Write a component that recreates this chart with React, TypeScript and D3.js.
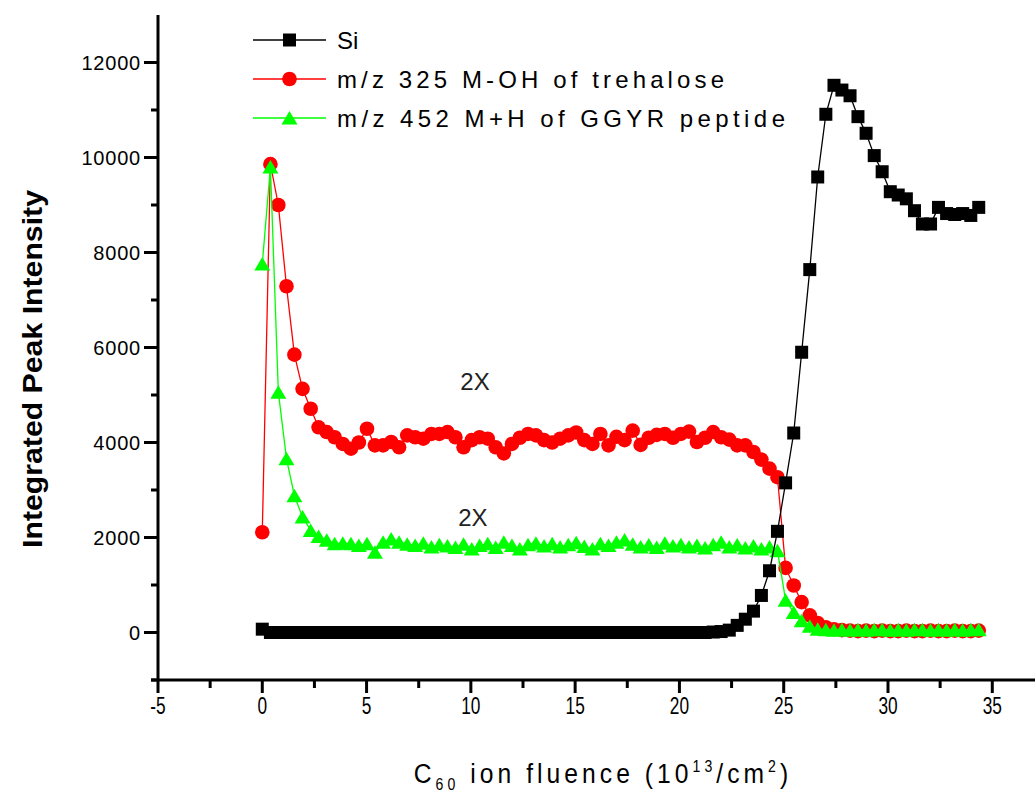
import React from "react";
import * as d3 from "d3";

const fluence = [
  0, 0.39, 0.77, 1.16, 1.54, 1.93, 2.32, 2.7, 3.09, 3.47,
  3.86, 4.25, 4.63, 5.02, 5.4, 5.79, 6.18, 6.56, 6.95, 7.33,
  7.72, 8.11, 8.49, 8.88, 9.26, 9.65, 10.04, 10.42, 10.81, 11.19,
  11.58, 11.97, 12.35, 12.74, 13.12, 13.51, 13.9, 14.28, 14.67, 15.05,
  15.44, 15.83, 16.21, 16.6, 16.98, 17.37, 17.76, 18.14, 18.53, 18.91,
  19.3, 19.69, 20.07, 20.46, 20.84, 21.23, 21.62, 22.0, 22.39, 22.77,
  23.16, 23.55, 23.93, 24.32, 24.7, 25.09, 25.48, 25.86, 26.25, 26.63,
  27.02, 27.41, 27.79, 28.18, 28.56, 28.95, 29.34, 29.72, 30.11, 30.49,
  30.88, 31.27, 31.65, 32.04, 32.42, 32.81, 33.2, 33.58, 33.97, 34.35,
];

const siIntensity = [
  70, 0, 0, 0, 0, 0, 0, 0, 0, 0,
  0, 0, 0, 0, 0, 0, 0, 0, 0, 0,
  0, 0, 0, 0, 0, 0, 0, 0, 0, 0,
  0, 0, 0, 0, 0, 0, 0, 0, 0, 0,
  0, 0, 0, 0, 0, 0, 0, 0, 0, 0,
  0, 0, 0, 0, 0, 0, 10, 20, 50, 150,
  280, 450, 780, 1300, 2130, 3150, 4200, 5900, 7640, 9590,
  10910, 11520, 11420, 11300, 10860, 10510, 10040, 9700, 9280, 9210,
  9130, 8880, 8600, 8600, 8950, 8820, 8800, 8820, 8780, 8950,
];

const trehaloseIntensity = [
  2110, 9860, 9000, 7290, 5850, 5130, 4710, 4320, 4220, 4110,
  3970, 3870, 4000, 4290, 3940, 3940, 4010, 3900, 4150, 4110,
  4080, 4180, 4180, 4220, 4110, 3900, 4050, 4110, 4080, 3900,
  3770, 3970, 4100, 4180, 4150, 4050, 4000, 4080, 4150, 4210,
  4050, 3970, 4180, 3940, 4120, 4050, 4250, 3950, 4100, 4160,
  4180, 4100, 4180, 4230, 4010, 4100, 4220, 4110, 4060, 3940,
  3940, 3800, 3640, 3450, 3270, 1360, 990, 640, 360, 200,
  110, 70, 50, 40, 30, 40, 30, 40, 30, 30,
  40, 30, 30, 40, 30, 30, 40, 30, 30, 40,
];

const peptideIntensity = [
  7760, 9800, 5060, 3660, 2880, 2430, 2150, 2020, 1940, 1870,
  1880, 1870, 1830, 1870, 1690, 1900, 1970, 1900, 1860, 1830,
  1880, 1800, 1850, 1820, 1790, 1860, 1760, 1830, 1870, 1790,
  1900, 1830, 1760, 1850, 1880, 1820, 1870, 1800, 1850, 1890,
  1810, 1760, 1870, 1830, 1900, 1950, 1860, 1800, 1840, 1790,
  1880, 1820, 1850, 1800, 1830, 1780, 1850, 1900, 1800, 1840,
  1780, 1820, 1760, 1800, 1720, 680, 420, 250, 130, 70,
  60, 50, 60, 50, 60, 50, 60, 60, 50, 60,
  50, 60, 60, 50, 60, 50, 60, 50, 60, 60,
];

const seriesNames = ["Si", "m/z 325 M-OH of trehalose", "m/z 452 M+H of GGYR peptide"];
const xMajorTicks = [-5, 0, 5, 10, 15, 20, 25, 30, 35];
const xMinorTicks = [-2.5, 2.5, 7.5, 12.5, 17.5, 22.5, 27.5, 32.5];
const yMajorTicks = [0, 2000, 4000, 6000, 8000, 10000, 12000];
const yMinorTicks = [-1000, 1000, 3000, 5000, 7000, 9000, 11000];
const annotations = [
  { label: "2X", fx: 10.2, val: 5280 },
  { label: "2X", fx: 10.1, val: 2420 },
];

const W = 1035;
const H = 793;
const FONT = "'Liberation Sans', Arial, sans-serif";

function marker(shape: string, cx: number, cy: number, color: string, key: any) {
  if (shape === "square")
    return <rect key={key} x={cx - 6.5} y={cy - 6.5} width={13} height={13} fill={color} />;
  if (shape === "circle") return <circle key={key} cx={cx} cy={cy} r={7.3} fill={color} />;
  return (
    <path
      key={key}
      d={`M${cx},${cy - 7}L${cx + 8},${cy + 6.5}L${cx - 8},${cy + 6.5}Z`}
      fill={color}
    />
  );
}

export default function App() {
  const x = d3.scaleLinear().domain([-5, 37]).range([158, 1034]);
  const y = d3.scaleLinear().domain([-1000, 13000]).range([680, 15]);

  const series = [
    { name: seriesNames[1], values: trehaloseIntensity, color: "#ff0000", shape: "circle" },
    { name: seriesNames[2], values: peptideIntensity, color: "#00ff00", shape: "triangle" },
    { name: seriesNames[0], values: siIntensity, color: "#000000", shape: "square" },
  ];
  const legendOrder = [
    { name: seriesNames[0], color: "#000000", shape: "square", len: 0 },
    { name: seriesNames[1], color: "#ff0000", shape: "circle", len: 387 },
    { name: seriesNames[2], color: "#00ff00", shape: "triangle", len: 448 },
  ];

  const line = d3
    .line<number>()
    .x((_, i) => x(fluence[i]))
    .y((d) => y(d));

  const axisY = y(-1000);
  const axisX = x(-5);

  return (
    <svg
      width={W}
      height={H}
      style={{ position: "absolute", left: 0, top: 0, background: "#fff" }}
      fontFamily={FONT}
    >
      <rect x={0} y={0} width={W} height={H} fill="#fff" />
      {series.map((s) => (
        <g key={s.name}>
          <path d={line(s.values) || ""} fill="none" stroke={s.color} strokeWidth={1.3} />
          {s.values.map((v, i) => marker(s.shape, x(fluence[i]), y(v), s.color, i))}
        </g>
      ))}

      <g stroke="#000" strokeWidth={3}>
        <line x1={axisX} x2={axisX} y1={y(13000)} y2={axisY} />
        <line x1={axisX - 7} x2={W} y1={axisY} y2={axisY} />
        {yMajorTicks.map((t) => (
          <line key={"ym" + t} x1={axisX - 14} x2={axisX} y1={y(t)} y2={y(t)} />
        ))}
        {yMinorTicks.map((t) => (
          <line key={"yn" + t} x1={axisX - 7} x2={axisX} y1={y(t)} y2={y(t)} />
        ))}
        {xMajorTicks.map((t) => (
          <line key={"xm" + t} x1={x(t)} x2={x(t)} y1={axisY} y2={axisY + 13} />
        ))}
        {xMinorTicks.map((t) => (
          <line key={"xn" + t} x1={x(t)} x2={x(t)} y1={axisY} y2={axisY + 8} />
        ))}
      </g>

      {yMajorTicks.map((t) => (
        <text
          key={"yl" + t}
          x={axisX - 17}
          y={y(t)}
          dy="0.36em"
          textAnchor="end"
          fontSize={20}
          letterSpacing={0.8}
          fill="#000"
        >
          {t}
        </text>
      ))}
      {xMajorTicks.map((t) => (
        <text
          key={"xl" + t}
          transform={`translate(${x(t)},${axisY + 25}) scale(0.72,1)`}
          dy="0.36em"
          textAnchor="middle"
          fontSize={24}
          fill="#000"
        >
          {t}
        </text>
      ))}

      <text
        transform={`translate(32,369) rotate(-90)`}
        textAnchor="middle"
        dy="0.36em"
        fontSize={27}
        fontWeight="bold"
        textLength={358}
        lengthAdjust="spacingAndGlyphs"
        fill="#000"
      >
        Integrated Peak Intensity
      </text>
      <g transform="translate(603,783) scale(0.88,1)">
        <text x={0} y={0} textAnchor="middle" fontSize={28} letterSpacing={4.6} fill="#000">
          C<tspan fontSize={16} dy={7}>60</tspan>
          <tspan dy={-7}> ion fluence (10</tspan>
          <tspan fontSize={16} dy={-11}>13</tspan>
          <tspan dy={11}>/cm</tspan>
          <tspan fontSize={16} dy={-11}>2</tspan>
          <tspan dy={11}>)</tspan>
        </text>
      </g>

      {annotations.map((a, i) => (
        <text
          key={"an" + i}
          x={x(a.fx)}
          y={y(a.val)}
          dy="0.36em"
          textAnchor="middle"
          fontSize={24}
          fill="#222"
        >
          {a.label}
        </text>
      ))}

      {legendOrder.map((l, i) => {
        const ly = 40 + i * 39;
        return (
          <g key={"lg" + i}>
            <line x1={253} x2={326} y1={ly} y2={ly} stroke={l.color} strokeWidth={1.5} />
            {marker(l.shape, 289.5, ly, l.color, "m")}
            <text
              x={337}
              y={ly}
              dy="0.36em"
              fontSize={24}
              fill="#000"
              {...(l.len ? { textLength: l.len, lengthAdjust: "spacing" } : {})}
            >
              {l.name}
            </text>
          </g>
        );
      })}
    </svg>
  );
}
